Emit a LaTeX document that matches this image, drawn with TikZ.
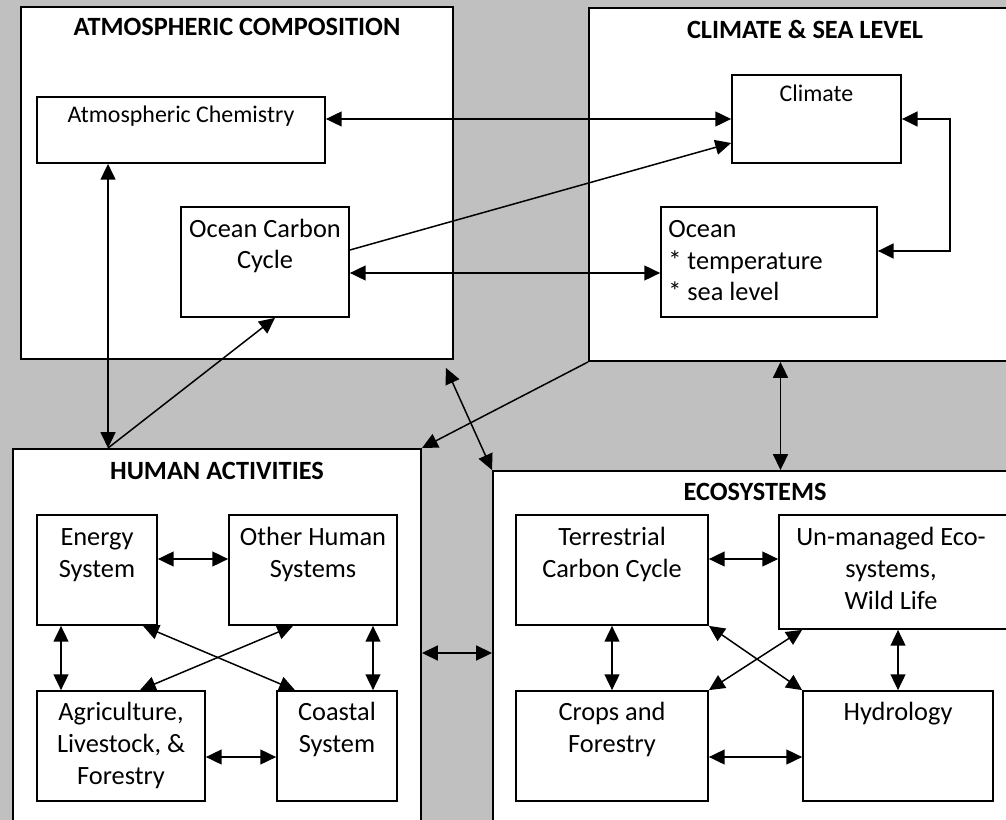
\documentclass[tikz,border=0pt]{standalone}
\usepackage{fontspec}
\setmainfont{Carlito}
\usetikzlibrary{arrows.meta,calc}

\definecolor{PaperGray}{RGB}{192,192,192}
\newlength\px
\setlength\px{0.02cm}
\newcommand\regsize{\fontsize{15}{18.1}\selectfont}
\newcommand\smallsize{\fontsize{13.6}{18.1}\selectfont}

\tikzstyle{group-box}=[rectangle,
                       draw=black,
                       fill=white,
                       line width=1.1pt
                      ]
\tikzstyle{part-box}=[rectangle,
                      draw=black,
                      fill=white,
                      line width=1pt
                     ]
\tikzstyle{group-title}=[anchor=base, inner sep=0pt, font=\regsize\bfseries]
\tikzstyle{part-text}=[anchor=base, inner sep=0pt, font=\regsize, align=center]
\tikzstyle{small-text}=[part-text, font=\smallsize]
\tikzstyle{link}=[-{Triangle[length=9pt,width=8.5pt]}, line width=0.85pt]
\tikzstyle{dlink}=[link, {Triangle[length=9pt,width=8.5pt]}-{Triangle[length=9pt,width=8.5pt]}]

\begin{document}
\begin{tikzpicture}[x=\px, y=-\px]
    % Canvas
    % --------------------------------------------------------------------------
    \useasboundingbox (0,0) rectangle (1006,820);
    \clip (0,0) rectangle (1006,820);
    \fill[PaperGray] (0,0) rectangle (1006,820);

    % Groups
    % --------------------------------------------------------------------------
    \node at (237,   183)   (atmos)   [group-box, minimum width=432\px, minimum height=352\px] {};
    \node at (804.5, 184.5) (climbox) [group-box, minimum width=431\px, minimum height=353\px] {};
    \node at (217,   642)   (human)   [group-box, minimum width=408\px, minimum height=386\px] {};
    \node at (756.5, 653)   (eco)     [group-box, minimum width=527\px, minimum height=364\px] {};

    \node at (237, 36)  (atmos-title)   [group-title] {ATMOSPHERIC COMPOSITION};
    \node at (805, 39)  (climbox-title) [group-title] {CLIMATE \& SEA LEVEL};
    \node at (217, 479) (human-title)   [group-title] {HUMAN ACTIVITIES};
    \node at (755, 500) (eco-title)     [group-title] {ECOSYSTEMS};

    % Parts (text nodes sit on the baseline of their last line)
    % --------------------------------------------------------------------------
    \node at (181,   130) (chem)  [part-box, minimum width=288\px, minimum height=66\px]  {};
    \node at (265,   262) (oc)    [part-box, minimum width=168\px, minimum height=110\px] {};
    \node at (816.5, 119) (clim)  [part-box, minimum width=169\px, minimum height=88\px]  {};
    \node at (769,   262) (ocean) [part-box, minimum width=216\px, minimum height=110\px] {};

    \node at (97,  570) (energy)  [part-box, minimum width=120\px, minimum height=110\px] {};
    \node at (313, 570) (other)   [part-box, minimum width=168\px, minimum height=110\px] {};
    \node at (121, 746) (agri)    [part-box, minimum width=168\px, minimum height=110\px] {};
    \node at (337, 746) (coastal) [part-box, minimum width=120\px, minimum height=110\px] {};

    \node at (612, 570) (terr)  [part-box, minimum width=192\px, minimum height=110\px] {};
    \node at (898, 572) (unman) [part-box, minimum width=238\px, minimum height=114\px] {};
    \node at (612, 746) (crops) [part-box, minimum width=192\px, minimum height=110\px] {};
    \node at (898, 746) (hydro) [part-box, minimum width=190\px, minimum height=110\px] {};

    \node at (181,   123) (chem-text)  [small-text] {Atmospheric Chemistry};
    \node at (265,   269) (oc-text)    [part-text]  {Ocean Carbon\\Cycle};
    \node at (816.5, 102) (clim-text)  [small-text] {Climate};
    \node at (668,   301) (ocean-text) [part-text, anchor=base west, align=left]
                                       {Ocean\\* temperature\\* sea level};

    \node at (97,  577) (energy-text)  [part-text] {Energy\\System};
    \node at (313, 577) (other-text)   [part-text] {Other Human\\Systems};
    \node at (121, 784) (agri-text)    [part-text] {Agriculture,\\Livestock, \&\\Forestry};
    \node at (337, 752) (coastal-text) [part-text] {Coastal\\System};

    \node at (612, 577) (terr-text)  [part-text] {Terrestrial\\Carbon Cycle};
    \node at (891, 609) (unman-text) [part-text] {Un-managed Eco-\\systems,\\Wild Life};
    \node at (612, 752) (crops-text) [part-text] {Crops and\\Forestry};
    \node at (898, 720) (hydro-text) [part-text] {Hydrology};

    % Arrows between groups
    % --------------------------------------------------------------------------
    \coordinate (human-in) at ($(human.north west)+(96,0)$);
    \coordinate (clim-out) at ($(climbox.south)+(-24,0)$);

    \draw[dlink] (chem.east |- clim.west) -- (clim.west);
    \draw[link]  ($(oc.east)+(0,-12)$) -- ($(clim.west)+(0,24)$);
    \draw[dlink] ($(oc.east)+(0,11)$) -- ($(ocean.west)+(0,11)$);
    \draw[dlink, line width=1.1pt] (clim.east) -- ++(48,0) |- ($(ocean.east)+(0,-11)$);

    \draw[dlink] (human-in) -- (human-in |- chem.south);
    \draw[link]  (human-in) -- ($(oc.south)+(10,0)$);
    \draw[link]  (climbox.south west) -- (human.north east);
    \draw[dlink] ($(atmos.south east)+(-8,8)$) -- (eco.north west);
    \draw[dlink] (clim-out) -- (clim-out |- eco.north);
    \draw[dlink] (human.east |- eco.west) -- (eco.west);

    % Arrows inside groups
    % --------------------------------------------------------------------------
    \draw[dlink] ($(energy.east)+(0,-11)$) -- ($(other.west)+(0,-11)$);
    \draw[dlink] ($(energy.south)+(-36,0)$) -- ($(agri.north)+(-60,0)$);
    \draw[dlink] ($(other.south)+(60,0)$) -- ($(coastal.north)+(36,0)$);
    \draw[dlink] ($(agri.east)+(0,11)$) -- ($(coastal.west)+(0,11)$);
    \draw[dlink] ($(energy.south)+(46,0)$) -- ($(coastal.north)+(-42,0)$);
    \draw[dlink] ($(other.south)+(-20,0)$) -- ($(agri.north)+(19,0)$);

    \draw[dlink] ($(terr.east)+(0,-11)$) -- ($(unman.west)+(0,-13)$);
    \draw[dlink] (terr.south) -- (crops.north);
    \draw[dlink] (unman.south) -- (hydro.north);
    \draw[dlink] ($(crops.east)+(0,11)$) -- ($(hydro.west)+(0,11)$);
    \draw[dlink] (terr.south east) -- (hydro.north west);
    \draw[dlink] ($(unman.south west)+(24,0)$) -- (crops.north east);
\end{tikzpicture}
\end{document}
